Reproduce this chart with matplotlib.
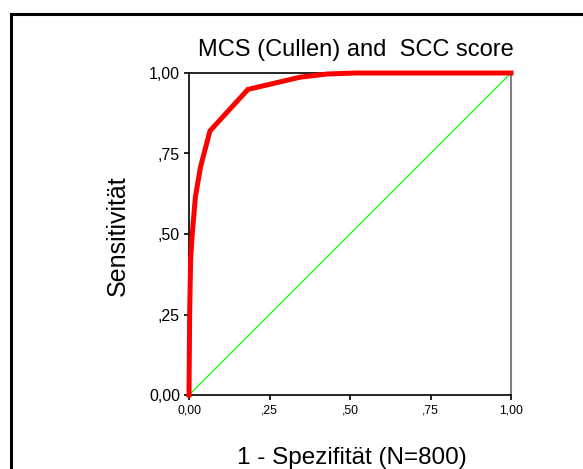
import matplotlib
matplotlib.use("Agg")
import matplotlib.pyplot as plt
from matplotlib.patches import Rectangle

plt.rcParams['font.family'] = ['Liberation Sans', 'DejaVu Sans']

# ROC curve
fpr = [0.0, 0.002, 0.005, 0.010, 0.020, 0.036, 0.065, 0.183, 0.345, 0.43,
       0.52, 0.61, 0.69, 0.80, 0.88, 1.0]
tpr = [0.0, 0.25, 0.42, 0.50, 0.616, 0.709, 0.82, 0.949, 0.987, 0.997,
       1.0, 1.0, 1.0, 1.0, 1.0, 1.0]
ref_x = [0.0, 1.0]
ref_y = [0.0, 1.0]
ticks = [0.0, 0.25, 0.5, 0.75, 1.0]
tick_labels = ["0,00", ",25", ",50", ",75", "1,00"]

W, H = 583, 469
fig = plt.figure(figsize=(W / 100, H / 100), dpi=100)

# outer frame
fig.patches.append(Rectangle((10.5 / W, 0 - 0.05), 2.0, 1 - 13.75 / H + 0.05,
                             transform=fig.transFigure, fill=False,
                             edgecolor='black', linewidth=2.2))

ax = fig.add_axes([189 / W, 1 - 395 / H, 322 / W, 322 / H])
ax.plot(ref_x, ref_y, color='#00ff00', linewidth=0.9, clip_on=False)
ax.plot(fpr, tpr, color='#ff0000', linewidth=3.6, clip_on=False,
        solid_joinstyle='miter', zorder=3)

ax.set_xlim(0, 1)
ax.set_ylim(0, 1)
ax.set_xticks(ticks)
ax.set_xticklabels(tick_labels, fontsize=8.8)
ax.set_yticks(ticks)
ax.set_yticklabels(tick_labels, fontsize=11.5)
ax.tick_params(axis='both', direction='out', length=3.5, width=1.2, pad=3)

for side in ['left', 'bottom', 'top']:
    ax.spines[side].set_color('black')
    ax.spines[side].set_linewidth(1.2)
ax.spines['right'].set_color('#808080')
ax.spines['right'].set_linewidth(1.5)

fig.text(356 / W, 1 - 55.7 / H, "MCS (Cullen) and  SCC score",
         ha='center', va='baseline', fontsize=17)
fig.text(351.5 / W, 1 - 464 / H, "1 - Spezifität (N=800)",
         ha='center', va='baseline', fontsize=17.5)
fig.text(117.5 / W, 1 - 236 / H, "Sensitivität", rotation=90,
         ha='center', va='center', fontsize=18)

fig.savefig("out.png", dpi=100)
